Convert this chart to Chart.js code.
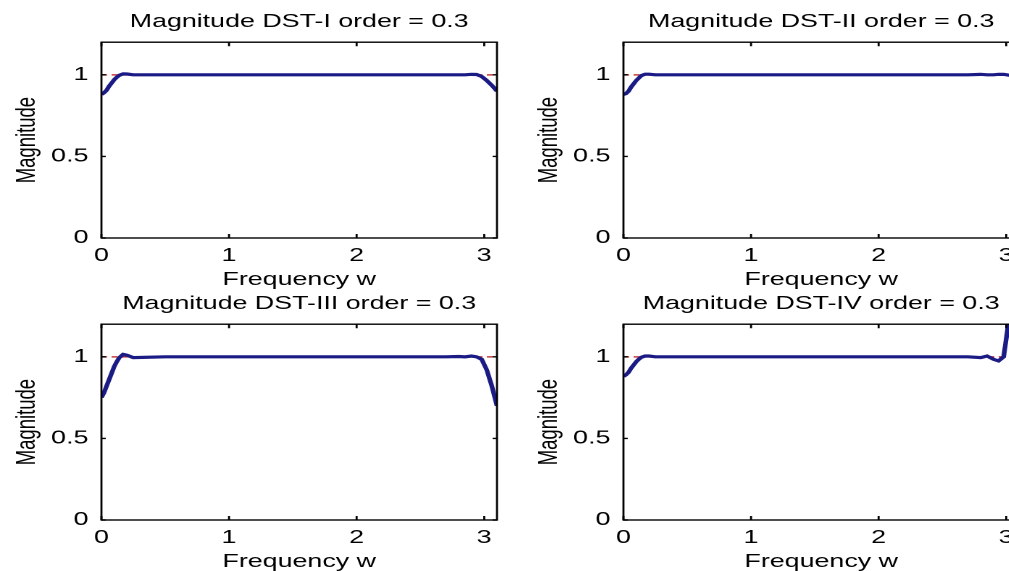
<!DOCTYPE html>
<html>
<head>
<meta charset="utf-8">
<script src="https://cdn.jsdelivr.net/npm/chart.js@4.4.1/dist/chart.umd.min.js"></script>
<style>
  html, body { margin: 0; padding: 0; background: #fff; width: 1009px; height: 571px; overflow: hidden; }
  body { position: relative; }
  canvas { position: absolute; }
</style>
</head>
<body>
<canvas id="dst1" width="352" height="289" style="left:0px;top:0px;width:510px;height:289px"></canvas>
<canvas id="dst2" width="352" height="289" style="left:522px;top:0px;width:510px;height:289px"></canvas>
<canvas id="dst3" width="352" height="289" style="left:0px;top:282px;width:510px;height:289px"></canvas>
<canvas id="dst4" width="352" height="289" style="left:522px;top:282px;width:510px;height:289px"></canvas>
<script>
// frequency samples (rad)
const freq = [0, 0.02, 0.04, 0.06, 0.08, 0.10, 0.12, 0.14, 0.17, 0.20, 0.25, 0.5, 1.0, 1.5, 2.0, 2.5, 2.7, 2.8, 2.85, 2.9, 2.94, 2.98, 3.02, 3.06, 3.10];
const magDst1 = [0.88, 0.89, 0.905, 0.93, 0.95, 0.97, 0.985, 0.997, 1.006, 1.005, 1.0, 1.0, 1.0, 1.0, 1.0, 1.0, 1.0, 1.0, 1.0, 1.003, 1.002, 0.99, 0.965, 0.935, 0.90];
const magDst2 = [0.88, 0.885, 0.90, 0.925, 0.945, 0.965, 0.98, 0.995, 1.004, 1.004, 1.0, 1.0, 1.0, 1.0, 1.0, 1.0, 1.0, 1.003, 1.0, 1.0, 1.003, 1.003, 0.998, 0.995, 0.99];
const magDst3 = [0.75, 0.78, 0.82, 0.86, 0.90, 0.94, 0.97, 0.995, 1.015, 1.01, 0.995, 1.0, 1.0, 1.0, 1.0, 1.0, 1.0, 1.002, 1.0, 1.005, 1.0, 0.985, 0.92, 0.82, 0.70];
const magDst4 = [0.88, 0.89, 0.905, 0.93, 0.95, 0.97, 0.985, 0.997, 1.005, 1.005, 1.0, 1.0, 1.0, 1.0, 1.0, 1.0, 1.0, 0.995, 1.005, 0.985, 0.975, 1.0, 1.22, 1.4, 1.55];
// ideal response (red dashed)
const idealFreq = [0, 3.1];
const idealMag = [1, 1];

const xTicks = [0, 1, 2, 3];
const yTicks = [0, 0.5, 1];

const font = { family: "'Liberation Sans', Arial, sans-serif", size: 18.5, weight: 'normal' };

// MATLAB style box with inward ticks
const boxTicks = {
  id: 'boxTicks',
  afterDatasetsDraw(chart) {
    const { ctx, chartArea: a, scales: { x, y } } = chart;
    ctx.save();
    ctx.strokeStyle = '#000';
    ctx.lineWidth = 1.4;
    ctx.beginPath();
    xTicks.forEach(v => {
      const px = x.getPixelForValue(v);
      ctx.moveTo(px, a.bottom); ctx.lineTo(px, a.bottom - 4);
      ctx.moveTo(px, a.top); ctx.lineTo(px, a.top + 4);
    });
    yTicks.forEach(v => {
      const py = y.getPixelForValue(v);
      ctx.moveTo(a.left, py); ctx.lineTo(a.left + 3, py);
      ctx.moveTo(a.right, py); ctx.lineTo(a.right - 3, py);
    });
    ctx.stroke();
    ctx.strokeRect(a.left, a.top, a.right - a.left, a.bottom - a.top);
    ctx.restore();
  }
};

function makeChart(id, title, mag) {
  new Chart(document.getElementById(id), {
    type: 'line',
    data: {
      datasets: [
        {
          data: freq.map((f, i) => ({ x: f, y: mag[i] })),
          borderColor: '#1b1b85',
          borderWidth: 3.2,
          pointRadius: 0,
          tension: 0
        },
        {
          data: idealFreq.map((f, i) => ({ x: f, y: idealMag[i] })),
          borderColor: '#c83c3c',
          borderDash: [4, 3],
          borderWidth: 1.5,
          pointRadius: 0
        }
      ]
    },
    options: {
      responsive: false,
      devicePixelRatio: 2,
      animation: false,
      layout: { padding: { left: 0, right: 9, top: 0, bottom: 0 } },
      plugins: {
        legend: { display: false },
        tooltip: { enabled: false },
        title: {
          display: true, text: title, fullSize: false, color: '#000', font: font,
          padding: { top: 11, bottom: 9 }
        }
      },
      scales: {
        x: {
          type: 'linear', min: 0, max: 3.1,
          afterBuildTicks: s => { s.ticks = xTicks.map(v => ({ value: v })); },
          afterFit: s => { s.height = 51; },
          grid: { display: false, drawTicks: false }, border: { display: false },
          ticks: { padding: 7, maxRotation: 0, autoSkip: false, color: '#000', font: font },
          title: { display: true, text: 'Frequency w', color: '#000', font: font, padding: { top: 0, bottom: -2 } }
        },
        y: {
          type: 'linear', min: 0, max: 1.2,
          afterBuildTicks: s => { s.ticks = yTicks.map(v => ({ value: v })); },
          afterFit: s => { s.width = 70; },
          grid: { display: false, drawTicks: false }, border: { display: false },
          ticks: { padding: 9, color: '#000', font: font, callback: v => String(v) },
          title: { display: true, text: 'Magnitude', color: '#000', font: font, padding: { top: 8, bottom: 0 } }
        }
      }
    },
    plugins: [boxTicks]
  });
}

makeChart('dst1', 'Magnitude DST-I order = 0.3', magDst1);
makeChart('dst2', 'Magnitude DST-II order = 0.3', magDst2);
makeChart('dst3', 'Magnitude DST-III order = 0.3', magDst3);
makeChart('dst4', 'Magnitude DST-IV order = 0.3', magDst4);
</script>
</body>
</html>
